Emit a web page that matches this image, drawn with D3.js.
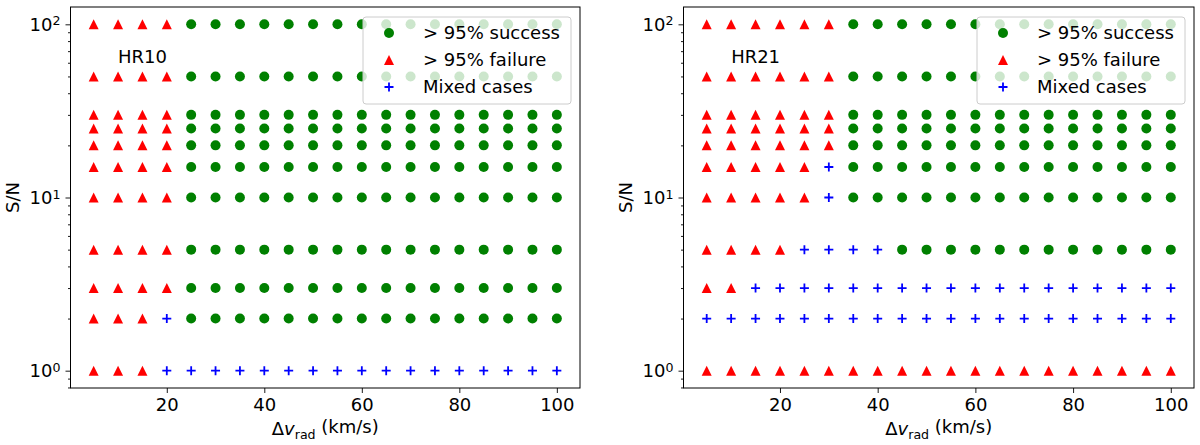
<!DOCTYPE html>
<html>
<head>
<meta charset="utf-8">
<script src="https://cdn.jsdelivr.net/npm/d3@7"></script>
<style>
  body { margin: 0; background: #fff; }
  svg text { font-family: "DejaVu Sans", sans-serif; }
</style>
</head>
<body>
<svg id="chart" width="1200" height="445"></svg>
<script>
// velocity offsets (km/s), one column of markers each
const dv = [5, 10, 15, 20, 25, 30, 35, 40, 45, 50, 55, 60, 65, 70, 75, 80, 85, 90, 95, 100];
// S/N levels, one row of markers each
const snLevels = [100, 50, 30, 25, 20, 15, 10, 5, 3, 2, 1];
// per row: S = >95% success, F = >95% failure, M = mixed, one letter per dv value
const hr10Rows = [
  "FFFFSSSSSSSSSSSSSSSS", // 100
  "FFFFSSSSSSSSSSSSSSSS", // 50
  "FFFFSSSSSSSSSSSSSSSS", // 30
  "FFFFSSSSSSSSSSSSSSSS", // 25
  "FFFFSSSSSSSSSSSSSSSS", // 20
  "FFFFSSSSSSSSSSSSSSSS", // 15
  "FFFFSSSSSSSSSSSSSSSS", // 10
  "FFFFSSSSSSSSSSSSSSSS", // 5
  "FFFFSSSSSSSSSSSSSSSS", // 3
  "FFFMSSSSSSSSSSSSSSSS", // 2
  "FFFMMMMMMMMMMMMMMMMM"  // 1
];
const hr21Rows = [
  "FFFFFFSSSSSSSSSSSSSS", // 100
  "FFFFFFSSSSSSSSSSSSSS", // 50
  "FFFFFFSSSSSSSSSSSSSS", // 30
  "FFFFFFSSSSSSSSSSSSSS", // 25
  "FFFFFFSSSSSSSSSSSSSS", // 20
  "FFFFFMSSSSSSSSSSSSSS", // 15
  "FFFFFMSSSSSSSSSSSSSS", // 10
  "FFFFMMMMSSSSSSSSSSSS", // 5
  "FFMMMMMMMMMMMMMMMMMM", // 3
  "MMMMMMMMMMMMMMMMMMMM", // 2
  "FFFFFFFFFFFFFFFFFFFF"  // 1
];
const panelNames = ["HR10", "HR21"];
const xTicks = [20, 40, 60, 80, 100];
const yMajor = [1, 10, 100];
const yExp = ["0", "1", "2"];
const yMinor = [0.8, 0.9, 2, 3, 4, 5, 6, 7, 8, 9, 20, 30, 40, 50, 60, 70, 80, 90];
const legendLabels = ["> 95% success", "> 95% failure", "Mixed cases"];

const svg = d3.select("#chart");
const plotTop = 7, plotBottom = 388;
const panels = [
  { left: 70.5, right: 580, rows: hr10Rows, name: panelNames[0] },
  { left: 683.5, right: 1194, rows: hr21Rows, name: panelNames[1] }
];
const fs = 18;

const kinds = ["S", "F", "M"];
const colors = { S: "#008000", F: "#ff0000", M: "#0000ff" };

const triangle = {
  draw(ctx, size) {
    const h = Math.sqrt(size);
    ctx.moveTo(0, -h / 2);
    ctx.lineTo(h / 2, h / 2);
    ctx.lineTo(-h / 2, h / 2);
    ctx.closePath();
  }
};
const plus = {
  draw(ctx, size) {
    const h = Math.sqrt(size) / 2;
    ctx.moveTo(-h, 0); ctx.lineTo(h, 0);
    ctx.moveTo(0, -h); ctx.lineTo(0, h);
  }
};

function marker(sel, kind) {
  if (kind === "S") {
    sel.attr("d", d3.symbol(d3.symbolCircle, Math.PI * 25)()).attr("fill", colors.S);
  } else if (kind === "F") {
    sel.attr("d", d3.symbol(triangle, 100)()).attr("fill", colors.F);
  } else {
    sel.attr("d", d3.symbol(plus, 81)()).attr("fill", "none")
      .attr("stroke", colors.M).attr("stroke-width", 1.8);
  }
}

panels.forEach(p => {
  const x = d3.scaleLinear().domain([0.25, 104.75]).range([p.left, p.right]);
  const y = d3.scaleLog().domain([Math.pow(10, -0.1), Math.pow(10, 2.1)]).range([plotBottom, plotTop]);
  const g = svg.append("g");

  // points
  const pts = [];
  p.rows.forEach((row, i) => {
    row.split("").forEach((c, j) => pts.push({ x: dv[j], y: snLevels[i], k: c }));
  });
  kinds.forEach(k => {
    g.selectAll(null)
      .data(pts.filter(d => d.k === k))
      .enter().append("path")
      .attr("transform", d => `translate(${x(d.x)},${y(d.y)})`)
      .call(marker, k);
  });

  // panel name
  g.append("text")
    .attr("x", x(10)).attr("y", y(60))
    .attr("font-size", fs).text(p.name);

  // x axis
  const xa = g.append("g")
    .attr("transform", `translate(0,${plotBottom})`)
    .call(d3.axisBottom(x).tickValues(xTicks).tickSize(5).tickPadding(5));
  xa.select(".domain").remove();
  xa.selectAll("text").attr("font-size", fs).attr("fill", "#000")
    .attr("font-family", "DejaVu Sans");

  // y axis: majors with labels, minors without
  const ya = g.append("g")
    .attr("transform", `translate(${p.left},0)`)
    .call(d3.axisLeft(y).tickValues(yMajor).tickSize(5).tickPadding(5).tickFormat(() => ""));
  ya.select(".domain").remove();
  ya.selectAll(".tick text").each(function (d, i) {
    const t = d3.select(this).attr("font-size", fs).attr("fill", "#000")
      .attr("font-family", "DejaVu Sans").attr("dy", "0.35em");
    t.append("tspan").text("10");
    t.append("tspan").attr("dy", "-0.45em").attr("font-size", fs * 0.7).text(yExp[i]);
  });
  const ym = g.append("g")
    .attr("transform", `translate(${p.left},0)`)
    .call(d3.axisLeft(y).tickValues(yMinor).tickSize(2.5).tickFormat(() => ""));
  ym.select(".domain").remove();
  g.selectAll(".tick line").attr("stroke", "#000").attr("stroke-width", 0.9);

  // axis titles
  const xl = g.append("text")
    .attr("x", (p.left + p.right) / 2).attr("y", 435)
    .attr("text-anchor", "middle").attr("font-size", fs);
  xl.append("tspan").text("\u0394");
  xl.append("tspan").attr("font-style", "italic").text("v");
  xl.append("tspan").attr("font-size", fs * 0.7).attr("dy", "0.3em").text("rad");
  xl.append("tspan").attr("dy", "-0.3em").text(" (km/s)");

  g.append("text")
    .attr("transform", `translate(${p.left - 52},${(plotTop + plotBottom) / 2}) rotate(-90)`)
    .attr("text-anchor", "middle").attr("font-size", fs).text("S/N");

  // legend
  const lw = 208, lh = 87;
  const lx = p.right - 9 - lw, ly = plotTop + 10;
  const lg = g.append("g").attr("transform", `translate(${lx},${ly})`);
  lg.append("rect").attr("width", lw).attr("height", lh).attr("rx", 3)
    .attr("fill", "#fff").attr("fill-opacity", 0.8)
    .attr("stroke", "#cccccc").attr("stroke-width", 1);
  legendLabels.forEach((lab, i) => {
    const cy = 16 + i * 27;
    lg.append("path").attr("transform", `translate(26,${cy})`).call(marker, kinds[i]);
    lg.append("text").attr("x", 60).attr("y", cy).attr("dy", "0.35em")
      .attr("font-size", fs).text(lab);
  });

  // frame
  g.append("rect")
    .attr("x", p.left).attr("y", plotTop)
    .attr("width", p.right - p.left).attr("height", plotBottom - plotTop)
    .attr("fill", "none").attr("stroke", "#000").attr("stroke-width", 1);
});
</script>
</body>
</html>
